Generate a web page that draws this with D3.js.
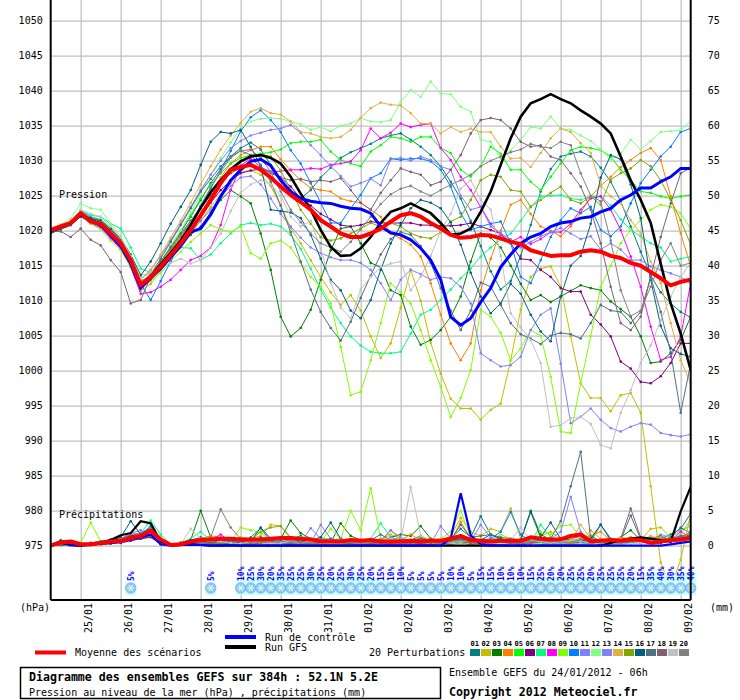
<!DOCTYPE html>
<html><head><meta charset="utf-8">
<script src="https://cdn.jsdelivr.net/npm/d3@7"></script>
<style>
body{margin:0;background:#fff}
svg{display:block}
text{font-family:"DejaVu Sans Mono",monospace}
</style>
</head><body>
<svg id="c" width="740" height="700"></svg>
<script>
// ---------------- DATA ----------------
const dayLabels = ["25/01","26/01","27/01","28/01","29/01","30/01","31/01","01/02","02/02","03/02","04/02","05/02","06/02","07/02","08/02","09/02"];
const dayIndex = [3,7,11,15,19,23,27,31,35,39,43,47,51,55,59,63];
const pressureTicks = [1050,1045,1040,1035,1030,1025,1020,1015,1010,1005,1000,995,990,985,980,975];
const precipTicks = [75,70,65,60,55,50,45,40,35,30,25,20,15,10,5,0];
const memberLabels = ["01","02","03","04","05","06","07","08","09","10","11","12","13","14","15","16","17","18","19","20"];
const memberColors = ["#008080","#c0c000","#008000","#ff8000","#00ff00","#800080","#00ff80","#ff00ff","#80ff00","#0080ff","#8080ff","#80ff80","#8080f8","#e0b040","#80a800","#006080","#507080","#806070","#c0c0c0","#808080"];

// snow probability (%) per 6h step, null = none
const snowPct = [null,null,null,null,null,null,null,null,5,null,null,null,null,null,null,null,5,null,null,
 10,25,30,20,35,25,25,30,25,20,25,30,25,20,15,10,10,5,5,5,5,10,10,5,15,15,10,10,10,15,25,20,20,25,25,20,25,25,25,20,15,35,40,30,35,40];

// sea level pressure (hPa), 65 steps of 6h
const pressControl = [1019.9,1020.5,1021.0,1022.3,1021.4,1020.8,1019.3,1017.8,1015.3,1011.8,
 1013.2,1014.6,1016.2,1017.8,1019.8,1020.3,1022.3,1024.9,1027.2,1028.7,
 1029.9,1030.2,1029.3,1027.2,1025.6,1024.6,1024.2,1024.0,1023.9,1023.5,
 1023.2,1023.1,1022.5,1020.6,1019.7,1019.4,1018.7,1017.5,1015.8,1013.0,
 1007.7,1006.5,1007.5,1009.8,1011.8,1014.8,1016.6,1018.2,1019.1,1019.6,
 1020.6,1021.1,1021.3,1021.8,1022.0,1022.7,1023.2,1024.4,1025.1,1026.1,
 1026.1,1027.0,1027.7,1028.9,1028.9];
const pressGFS = [1020.0,1020.6,1021.0,1022.4,1021.5,1021.0,1019.5,1018.0,1015.5,1012.0,
 1013.5,1015.2,1016.8,1018.6,1020.8,1023.3,1025.5,1027.2,1028.8,1029.9,
 1030.6,1030.8,1030.4,1029.6,1027.7,1025.3,1023.0,1020.1,1017.7,1016.4,
 1016.5,1017.5,1019.1,1021.1,1022.7,1023.2,1023.9,1023.2,1022.5,1021.1,
 1019.4,1019.6,1020.3,1022.7,1025.6,1029.4,1033.2,1036.3,1038.2,1038.8,
 1039.5,1038.8,1038.2,1037.2,1036.3,1035.3,1033.9,1030.6,1027.2,1024.4,
 1021.1,1015.3,1009.6,1005.3,1000.1];
const pressMean = [1020.1,1020.6,1021.1,1022.5,1021.3,1021.0,1019.6,1018.2,1015.8,1012.2,
 1013.4,1014.9,1016.5,1018.2,1020.1,1022.2,1024.4,1026.8,1028.7,1029.1,
 1029.4,1028.7,1027.6,1026.3,1025.1,1024.1,1023.0,1021.5,1020.6,1019.6,
 1019.1,1019.1,1019.6,1020.3,1021.3,1022.2,1022.5,1022.0,1021.1,1020.3,
 1019.4,1019.0,1019.1,1019.4,1019.3,1018.9,1018.4,1018.1,1017.2,1016.8,
 1016.4,1016.5,1016.5,1017.0,1017.2,1017.0,1016.4,1016.1,1015.4,1015.0,
 1014.1,1013.2,1012.2,1012.7,1013.0];
const pressPert = [
[1019.8,1020.5,1021.0,1022.8,1021.8,1021.4,1020.0,1018.4,1015.6,1012.4,1013.8,1015.6,1017.6,1019.8,1022.0,1024.4,1026.8,1028.8,1030.6,1031.8,1032.6,1031.6,1029.4,1027.2,1025.2,1024.6,1025.8,1027.6,1029.0,1030.4,1031.2,1031.8,1032.4,1033.2,1033.6,1033.9,1033.0,1032.0,1030.8,1029.2,1027.0,1024.6,1021.4,1017.8,1014.2,1011.6,1012.8,1016.4,1020.8,1025.6,1028.8,1030.6,1031.0,1031.3,1030.6,1029.0,1027.0,1024.2,1020.6,1017.0,1013.6,1011.2,1009.6,1008.4,1007.6],
[1019.9,1020.6,1021.2,1022.4,1021.4,1020.8,1019.4,1017.6,1014.8,1011.4,1012.4,1014.2,1016.2,1018.0,1019.6,1021.4,1023.4,1025.2,1026.8,1028.4,1028.6,1028.0,1026.4,1023.6,1020.4,1018.2,1015.8,1013.4,1011.2,1009.4,1010.8,1008.6,1004.9,1001.8,1003.9,1009.0,1014.4,1010.0,1004.0,999.6,996.0,994.6,994.6,993.0,994.4,995.3,1001.5,1008.7,1013.4,1014.6,1014.9,1012.0,1004.9,998.2,996.1,996.1,994.2,996.5,996.8,994.0,983.5,972.6,969.0,973.0,979.5],
[1019.6,1020.2,1020.8,1022.0,1021.2,1020.6,1019.2,1017.8,1015.4,1012.6,1013.4,1015.0,1016.6,1018.2,1019.4,1020.6,1022.6,1024.4,1025.8,1024.9,1023.9,1019.6,1014.4,1007.7,1004.9,1006.1,1008.7,1013.0,1017.2,1020.3,1020.6,1018.2,1015.4,1014.8,1011.5,1010.8,1006.3,1003.7,1004.4,1005.8,1007.7,1010.6,1015.6,1019.6,1019.0,1017.6,1015.0,1012.4,1010.1,1010.8,1009.8,1010.6,1011.4,1012.2,1011.8,1011.5,1009.9,1008.8,1007.7,1004.9,1001.1,1001.3,1002.5,1004.4,1007.7],
[1020.0,1020.6,1021.1,1022.7,1021.6,1021.3,1020.0,1018.6,1016.2,1012.8,1013.6,1015.2,1017.2,1019.0,1021.0,1023.4,1025.6,1027.6,1029.6,1030.8,1031.5,1032.0,1032.0,1030.2,1028.6,1027.2,1026.1,1025.8,1025.6,1024.6,1024.2,1024.0,1023.0,1022.0,1019.6,1018.9,1018.0,1016.3,1012.5,1008.0,1003.9,1001.5,1003.9,1011.5,1016.0,1020.0,1023.7,1024.4,1022.4,1020.6,1020.0,1019.2,1020.6,1022.6,1024.9,1026.4,1027.7,1029.1,1030.1,1031.1,1031.8,1030.1,1024.9,1019.6,1014.9],
[1019.9,1020.5,1021.2,1022.9,1022.0,1021.6,1020.4,1018.8,1016.0,1012.6,1013.6,1015.6,1017.8,1020.0,1022.2,1024.6,1026.6,1028.2,1029.6,1030.4,1030.8,1031.0,1031.2,1031.6,1032.5,1032.7,1032.7,1033.0,1031.3,1030.1,1029.6,1029.2,1031.3,1032.2,1033.4,1033.2,1032.7,1033.4,1033.4,1031.8,1031.1,1028.7,1027.7,1029.2,1032.0,1031.0,1028.7,1028.7,1027.0,1025.8,1027.7,1029.6,1031.5,1032.0,1031.8,1031.5,1030.6,1028.7,1027.2,1025.6,1025.4,1024.9,1024.6,1024.9,1025.1],
[1020.1,1020.7,1021.1,1022.3,1021.2,1020.8,1019.4,1017.9,1015.5,1012.2,1013.2,1014.8,1016.4,1018.2,1020.0,1022.0,1024.0,1025.8,1027.2,1028.2,1028.6,1028.8,1028.4,1027.6,1026.3,1024.6,1023.6,1022.4,1021.6,1020.8,1020.6,1020.8,1021.3,1021.1,1021.1,1021.1,1021.1,1020.8,1020.8,1020.7,1020.7,1020.8,1021.1,1020.6,1020.1,1019.6,1018.2,1016.0,1015.8,1014.4,1013.4,1011.8,1011.3,1011.3,1008.0,1006.6,1004.9,1001.3,1000.3,998.4,998.2,999.2,1001.1,1003.9,1003.9],
[1020.1,1020.6,1021.3,1022.9,1022.2,1022.0,1021.0,1020.3,1017.6,1014.6,1014.0,1015.0,1016.8,1017.6,1017.5,1015.8,1016.6,1018.2,1019.6,1020.8,1021.1,1020.8,1021.0,1020.6,1019.4,1017.4,1014.6,1011.6,1009.0,1006.8,1004.9,1003.6,1002.7,1002.5,1002.5,1002.7,1005.3,1008.0,1008.7,1010.1,1011.6,1013.2,1014.6,1016.3,1017.6,1018.7,1019.6,1021.4,1023.4,1024.9,1025.0,1025.1,1024.6,1024.4,1024.9,1024.9,1023.6,1021.6,1020.1,1019.2,1018.2,1017.6,1015.6,1016.0,1016.3],
[1019.8,1020.4,1020.9,1022.2,1021.0,1020.4,1018.9,1017.4,1014.8,1011.0,1011.2,1012.0,1013.0,1014.4,1015.8,1016.4,1017.6,1020.8,1025.8,1029.3,1030.3,1029.1,1028.4,1028.5,1028.7,1028.7,1028.9,1028.8,1029.4,1029.6,1029.9,1031.5,1034.6,1033.2,1034.0,1035.3,1034.8,1035.1,1035.3,1031.8,1030.1,1027.7,1025.8,1023.4,1021.0,1019.4,1018.4,1019.1,1018.1,1018.8,1019.8,1019.8,1021.0,1023.0,1024.6,1024.9,1023.0,1020.1,1016.3,1012.0,1006.3,1001.5,1002.0,1004.9,1012.5],
[1020.0,1020.5,1021.0,1022.2,1021.0,1020.2,1018.6,1017.2,1014.8,1012.0,1012.8,1014.0,1015.6,1017.0,1018.4,1019.6,1020.8,1020.2,1019.8,1020.6,1016.8,1016.0,1018.2,1018.6,1017.6,1015.4,1013.4,1012.0,1009.6,1003.4,996.5,997.0,1001.5,1006.8,1012.5,1011.2,1009.6,1005.8,1001.5,997.7,993.4,996.1,1000.1,1008.7,1007.7,1005.4,1001.5,1003.2,1005.8,1005.0,999.1,991.3,991.1,998.2,1004.9,1012.0,1015.0,1018.2,1020.1,1021.5,1023.0,1023.7,1023.4,1022.5,1020.3],
[1019.9,1020.6,1021.1,1022.6,1021.7,1021.4,1020.2,1018.8,1016.4,1012.4,1010.1,1012.8,1015.6,1018.4,1020.8,1023.4,1026.0,1028.6,1031.4,1034.2,1036.2,1037.2,1035.8,1034.1,1031.5,1029.6,1026.8,1024.0,1021.1,1021.1,1023.2,1025.1,1027.5,1028.2,1030.3,1030.1,1030.3,1030.3,1029.9,1028.7,1026.3,1022.5,1020.1,1020.6,1021.0,1021.3,1018.2,1013.4,1012.5,1015.8,1019.1,1021.5,1023.2,1022.5,1023.4,1020.1,1019.2,1020.6,1023.9,1026.8,1028.7,1030.6,1032.0,1034.1,1034.6],
[1020.0,1020.6,1021.0,1022.4,1021.4,1021.0,1019.6,1018.0,1015.6,1012.0,1013.0,1014.6,1016.4,1018.2,1019.8,1021.4,1023.0,1024.8,1026.4,1027.6,1027.8,1026.6,1024.6,1022.4,1020.6,1019.0,1017.6,1016.8,1016.2,1015.8,1015.8,1015.4,1014.4,1012.5,1010.1,1013.0,1014.4,1013.8,1013.0,1013.4,1013.2,1012.0,1009.6,1002.5,1001.5,1000.6,1000.8,1002.0,1005.8,1008.0,1008.9,1001.0,992.5,993.4,994.6,993.0,991.8,991.3,992.0,992.5,992.3,991.1,990.8,990.6,990.9],
[1020.2,1020.9,1021.7,1023.9,1023.2,1023.0,1021.0,1019.2,1016.6,1013.8,1013.6,1015.4,1017.6,1020.0,1022.6,1025.4,1028.0,1030.4,1032.6,1034.6,1035.6,1036.0,1036.1,1036.0,1035.6,1035.2,1034.4,1034.8,1034.2,1035.0,1035.3,1036.1,1035.6,1035.5,1035.8,1038.4,1040.1,1039.1,1041.3,1039.6,1039.5,1037.7,1037.0,1033.0,1032.7,1030.3,1031.5,1033.0,1034.8,1034.6,1036.3,1034.6,1034.4,1033.6,1032.8,1031.6,1030.2,1031.0,1033.0,1031.6,1032.8,1034.1,1034.2,1034.4,1035.6],
[1020.1,1020.7,1021.3,1022.8,1021.9,1021.5,1020.2,1018.8,1016.4,1013.0,1014.4,1016.4,1018.6,1021.0,1023.4,1025.8,1028.0,1030.0,1031.8,1032.8,1033.6,1034.0,1034.4,1034.6,1035.1,1034.0,1032.2,1030.8,1029.2,1027.8,1026.3,1026.8,1027.4,1026.5,1030.2,1030.4,1030.0,1030.6,1030.1,1029.2,1028.7,1025.0,1023.0,1023.4,1020.6,1019.6,1018.8,1017.6,1018.4,1019.2,1019.8,1020.4,1019.6,1018.8,1019.2,1017.3,1018.2,1017.3,1015.8,1015.8,1014.9,1014.4,1013.9,1013.4,1012.5],
[1020.0,1020.5,1021.0,1022.7,1021.7,1021.3,1020.1,1018.6,1016.0,1013.0,1014.4,1016.6,1019.0,1021.4,1024.0,1026.6,1029.2,1031.6,1033.6,1035.4,1037.0,1037.5,1036.8,1036.6,1035.6,1034.1,1033.9,1033.4,1033.2,1033.4,1034.4,1036.1,1037.5,1038.3,1038.0,1037.9,1036.8,1035.3,1035.3,1033.9,1034.8,1034.1,1034.6,1034.1,1034.1,1032.0,1030.3,1030.4,1029.1,1031.1,1033.2,1034.6,1034.1,1032.5,1031.1,1026.5,1024.9,1023.9,1021.5,1019.6,1015.6,1012.5,1006.8,1001.5,998.2],
[1020.0,1020.6,1021.1,1022.6,1021.5,1021.0,1019.7,1018.2,1015.9,1012.6,1013.6,1015.4,1017.4,1019.4,1021.4,1023.4,1025.4,1027.2,1028.8,1030.0,1030.8,1030.9,1030.6,1028.6,1025.8,1023.0,1021.0,1019.1,1018.6,1018.9,1019.6,1020.3,1021.1,1020.6,1021.1,1020.6,1019.6,1019.1,1018.9,1019.8,1021.3,1022.0,1024.4,1027.2,1028.0,1027.7,1025.8,1025.6,1023.4,1024.4,1025.4,1026.3,1024.4,1023.9,1024.9,1023.7,1027.3,1028.2,1028.9,1030.1,1029.2,1027.2,1024.4,1021.5,1018.0],
[1019.7,1020.3,1020.8,1022.4,1021.8,1021.4,1020.2,1018.8,1016.6,1013.6,1015.6,1018.2,1021.0,1023.4,1025.8,1029.4,1032.7,1034.1,1033.9,1034.4,1032.0,1029.2,1023.0,1022.8,1022.6,1021.8,1019.4,1016.0,1013.0,1011.5,1008.6,1007.5,1010.1,1014.4,1018.2,1020.8,1023.2,1024.4,1024.0,1023.2,1021.2,1018.0,1014.0,1010.6,1008.2,1009.6,1012.4,1011.0,1008.0,1005.6,1004.2,1010.6,1015.0,1016.4,1021.0,1027.6,1030.8,1030.2,1026.6,1021.8,1013.0,1006.4,1003.2,1002.4,1002.0],
[1019.8,1020.4,1020.9,1022.5,1021.6,1021.0,1019.6,1018.0,1015.6,1012.4,1013.8,1016.0,1018.4,1020.8,1023.2,1025.6,1027.4,1029.2,1030.6,1031.4,1030.8,1029.4,1027.0,1023.6,1019.8,1015.6,1011.6,1008.4,1006.1,1004.3,1007.0,1010.4,1013.6,1016.6,1018.8,1019.8,1019.4,1017.8,1015.4,1011.8,1008.6,1005.8,1008.6,1012.6,1012.0,1009.4,1006.8,1005.2,1004.6,1003.8,1005.0,1005.4,1005.2,1004.6,1006.8,1009.4,1008.6,1008.4,1006.8,1008.4,1013.4,1008.4,1002.6,994.0,1001.0],
[1019.9,1019.9,1019.1,1020.3,1018.7,1017.9,1015.8,1014.1,1009.6,1010.1,1013.4,1015.6,1017.6,1019.6,1021.4,1023.2,1025.0,1026.8,1028.2,1029.0,1029.4,1029.0,1028.2,1027.6,1027.2,1027.4,1027.0,1027.2,1027.0,1027.5,1025.8,1024.0,1023.0,1025.4,1027.2,1028.9,1028.4,1028.0,1026.5,1027.0,1028.7,1030.8,1033.9,1035.8,1036.1,1035.8,1034.6,1032.7,1032.0,1032.2,1030.6,1030.1,1028.2,1026.3,1023.0,1018.2,1012.0,1006.8,1005.8,1007.7,1013.4,1019.1,1023.9,1028.2,1029.0],
[1020.0,1020.7,1021.2,1023.0,1022.4,1022.0,1020.6,1019.0,1016.4,1013.2,1014.0,1014.8,1015.4,1016.0,1015.3,1015.8,1017.6,1019.6,1022.8,1025.4,1026.6,1027.2,1026.6,1025.0,1022.0,1020.6,1021.4,1017.4,1012.6,1009.0,1007.5,1011.6,1013.4,1014.8,1015.3,1015.6,1011.5,1013.4,1016.4,1020.0,1022.4,1026.0,1027.2,1024.4,1023.0,1016.4,1008.2,1006.2,1004.4,1001.1,992.0,992.2,993.2,993.4,992.4,989.4,988.9,994.0,997.2,1001.1,1003.6,1007.2,1010.6,1013.4,1015.4],
[1019.8,1020.4,1020.9,1022.6,1021.6,1021.2,1019.8,1018.4,1015.9,1012.8,1013.4,1015.2,1017.2,1019.2,1021.2,1023.6,1026.2,1028.4,1030.4,1031.4,1031.6,1030.4,1028.4,1025.6,1023.0,1021.2,1019.6,1018.2,1017.6,1017.0,1018.4,1020.2,1022.0,1023.8,1025.2,1026.0,1026.4,1025.6,1025.0,1025.8,1026.6,1027.2,1028.0,1029.2,1030.0,1030.6,1031.2,1031.6,1032.4,1032.0,1031.8,1032.7,1032.2,1028.2,1025.0,1024.2,1018.6,1011.5,1007.8,1008.6,1012.0,1015.8,1018.2,1015.0,1015.4]
];

// precipitation (mm per 6h)
const precipControl = [0,0.5,0.1,0,0.1,0.3,0.4,0.6,1.0,1.2,1.6,0.2,0,
 0.1,0.2,0.1,0,0,0.1,0,0,0,0,0,0,0,
 0,0,0,0,0,0,0,0,0,0,0,0,0,
 0,1.0,7.5,1.5,0.2,0,0,0,0,0,0,0,0,
 0,0,0,0,0,0,0,0,0,0,0.2,0.4,0.6];
const precipGFS = [0,0.4,0.1,0,0.2,0.4,0.8,1.5,1.8,3.5,3.2,0.6,0,
 0.1,0.2,0.1,0,0,0,0,0,0,0,0,0,0,
 0,0,0,0,0,0,0,0,0,0,0,0,0,
 0,0,0,0,0,0,0,0,0,0,0,0,0,
 0,0,0,0,0.4,0.8,1.0,1.2,1.0,0.8,0.6,4.9,8.4];
const precipMean = [0,0.5,0.6,0.2,0.2,0.4,0.6,0.7,1.2,1.4,2.2,0.9,0.1,
 0.2,0.6,0.8,0.9,1.0,1.0,0.9,0.9,0.9,1.0,1.1,1.1,1.0,
 0.9,0.6,0.6,0.6,0.8,0.7,0.8,0.6,0.6,0.6,0.7,0.6,0.7,
 0.7,1.0,1.4,0.8,0.7,0.6,0.7,0.7,0.7,1.2,1.0,0.9,0.9,
 1.4,1.6,0.6,0.7,0.8,0.7,0.9,0.8,0.4,0.6,0.8,0.9,1.1];
const precipPert = [
[0,0.8,0.2,0,0.3,0.6,0.9,1.0,1.6,1.8,2.6,0.8,0.1, 0.3,0.8,1.2,0.8,0.6,0.4,0.3,1.2,2.5,0.6,0.4,0.9,1.4, 0.6,0.4,0.8,0.5,0.6,0.3,0.5,1.0,0.6,0.4,0.8,1.4,0.6, 0.4,1.0,2.4,1.2,4.2,1.6,0.8,0.6,0.9,1.2,0.8,0.6,0.4, 0.9,1.6,0.6,3.0,1.0,0.8,1.2,0.8,0.6,1.0,1.6,2.4,4.6],
[0,0.2,0,0,0.1,0.3,0.4,0.6,1.0,1.2,1.6,0.3,0, 0.2,0.4,0.2,0.6,0.8,0.6,1.2,1.0,1.4,3.0,2.8,1.0,0.8, 0.6,1.2,0.8,0.6,0.4,0.6,0.3,0.8,1.6,1.0,0.6,1.2,1.0, 0.8,1.4,4.0,2.0,1.4,2.4,2.0,5.3,1.0,0.6,1.4,2.0,1.0, 0.6,0.4,2.2,1.0,0.6,0.8,1.2,0.8,2.4,2.6,1.2,0.8,1.6],
[0,0.1,0,0,0.2,0.2,0.3,0.5,0.8,1.0,1.4,0.2,0, 0.4,0.8,5.0,1.2,0.6,0.3,0.2,0.4,0.6,0.8,1.0,3.6,1.8, 1.0,0.6,0.4,3.2,1.4,0.8,0.6,0.4,1.2,1.6,1.4,2.8,1.0, 0.6,0.4,0.8,0.6,0.4,0.8,1.0,0.6,0.8,5.0,1.6,0.8,1.0, 0.6,0.8,1.4,0.6,0.4,1.2,2.2,0.8,0.6,0.4,0.8,1.0,2.0],
[0,0.3,0.1,0,0.2,0.3,0.5,0.6,0.9,1.2,1.8,0.4,0, 0.2,0.6,1.0,1.4,1.2,0.8,0.4,0.6,0.4,0.8,1.0,0.6,0.4, 0.6,0.8,0.4,0.6,0.8,0.6,0.4,0.5,2.2,0.8,1.6,0.8,0.6, 0.4,0.6,3.4,1.0,0.8,0.6,0.4,0.6,0.8,0.6,0.4,0.8,0.6, 1.0,0.8,1.4,2.0,0.8,0.6,0.4,0.8,1.0,0.6,0.8,1.2,1.6],
[0,0.2,0,0,0.1,0.3,0.5,0.7,1.0,1.4,2.0,0.4,0, 0.2,0.6,0.4,0.2,0.2,0.3,0.4,0.2,0.6,0.4,0.2,0.3,0.2, 0.2,0.1,0.3,0.2,0.1,0.2,0.1,0.3,0.4,0.2,0.4,0.6,0.3, 0.2,0.4,1.2,0.6,0.4,0.3,0.5,0.4,0.3,0.4,0.2,0.4,0.3, 0.4,0.6,0.4,0.3,0.2,0.4,0.6,0.4,0.8,1.0,0.6,1.4,1.0],
[0,0.1,0,0,0.1,0.2,0.3,0.4,0.7,1.0,1.2,0.2,0, 0.1,0.2,0.3,0.2,0.1,0.2,0.3,0.2,0.3,0.2,0.1,0.2,0.3, 0.2,0.1,0.2,0.3,0.2,0.1,0.2,0.1,0.2,0.3,0.2,0.1,0.2, 0.3,0.2,0.4,0.2,0.3,0.2,0.1,0.3,0.2,0.4,0.3,0.2,0.3, 0.2,0.3,0.4,0.2,0.3,0.2,0.4,0.6,0.8,1.2,0.6,0.8,1.0],
[0,0.4,0.1,0,0.2,0.4,0.8,1.0,1.4,1.8,3.6,1.6,0.2, 0.4,1.0,2.0,0.8,0.6,0.3,0.2,0.4,0.3,0.2,0.1,0.4,0.2, 0.3,0.2,0.4,0.6,0.2,0.4,1.0,3.2,1.2,0.6,0.4,0.3,0.6, 0.8,0.6,0.4,0.6,0.4,0.8,0.6,0.4,0.6,0.4,3.0,1.2,0.6, 0.8,0.6,0.4,0.6,1.0,0.8,0.6,0.4,0.8,1.6,1.2,2.2,2.8],
[0,0.2,0,0,0.1,0.4,0.6,0.8,1.2,1.4,1.6,0.3,0, 0.2,0.4,1.0,0.8,1.6,0.6,0.4,0.2,0.3,0.4,0.2,0.3,0.4, 0.2,0.3,0.2,0.4,0.3,0.2,0.3,0.4,0.3,0.2,0.4,0.3,0.2, 0.3,0.4,0.6,0.4,0.3,0.2,0.4,0.3,0.2,0.3,0.4,0.6,0.4, 0.3,0.4,0.6,0.4,0.3,0.4,0.6,0.8,1.0,1.4,0.8,2.0,1.2],
[0,0.3,0.1,0.4,3.3,0.6,0.5,0.8,1.4,1.6,2.4,0.6,0.2, 0.4,0.6,0.8,0.6,0.4,0.6,2.6,2.2,1.8,0.8,0.6,0.4,1.2, 0.8,0.6,2.4,1.0,5.0,2.2,8.2,1.0,0.8,1.2,0.6,1.0,0.8, 1.0,2.0,5.0,1.2,0.8,0.6,1.6,1.0,0.8,0.6,2.0,1.6,2.8, 3.0,1.2,0.8,0.6,0.4,0.8,1.0,0.6,0.8,1.2,0.6,1.0,1.4],
[0,0.5,0.1,0,0.2,0.4,0.6,0.9,1.2,1.6,2.8,0.6,0, 0.2,0.4,0.3,0.2,0.3,0.4,0.2,0.3,0.4,0.2,0.3,0.4,0.2, 0.3,0.2,0.3,0.4,0.3,0.2,0.3,0.2,0.4,0.3,0.2,0.3,0.4, 0.3,0.4,0.6,0.4,0.8,1.0,2.0,4.8,1.6,0.6,0.4,0.3,0.4, 0.6,0.4,0.3,0.4,0.6,0.4,0.6,0.8,0.6,0.8,1.0,1.2,1.4],
[0,0.3,0.1,0,0.2,0.4,0.6,0.8,1.6,1.8,2.0,0.5,0, 0.2,0.4,0.6,0.4,0.3,0.4,0.6,0.8,1.0,0.8,0.6,0.5,0.4, 2.5,1.0,0.8,0.6,0.4,0.6,0.8,0.6,1.2,0.8,0.6,0.4,0.3, 2.8,1.0,0.8,0.6,3.0,1.2,0.6,0.8,0.6,0.4,0.8,1.0,2.0, 7.0,2.0,0.6,0.4,0.6,0.4,0.3,0.4,0.6,0.8,0.6,0.4,0.6],
[0,0.2,0,0,0.2,0.3,0.5,0.7,1.0,1.4,1.8,0.3,0, 0.2,0.4,0.3,0.2,0.4,0.2,0.3,0.2,0.4,0.3,0.2,0.4,0.3, 0.2,0.3,0.2,0.3,0.2,0.4,0.3,0.2,0.3,0.2,0.3,0.4,0.3, 0.2,0.3,0.4,0.3,0.2,0.4,0.3,0.2,0.3,0.4,0.3,0.2,0.3, 0.2,0.3,0.2,0.4,0.3,0.2,0.3,0.4,0.6,0.8,1.0,0.8,1.2],
[0,0.4,0.1,0,0.3,0.5,0.7,1.0,1.8,2.2,1.4,0.4,0, 0.2,0.3,0.4,0.3,0.4,0.6,0.8,0.6,0.4,0.3,0.6,0.8,0.6, 0.4,3.0,1.0,0.6,0.4,0.3,0.6,0.8,2.2,1.2,0.6,0.8,0.6, 0.4,0.6,0.8,0.6,0.4,0.6,0.8,0.6,0.4,0.6,0.8,0.6,0.4, 0.6,0.8,0.6,0.4,0.6,0.8,0.6,0.4,0.6,1.0,0.8,1.0,1.2],
[0,0.3,0,0,0.2,0.3,0.5,0.6,1.0,1.2,1.6,0.3,0, 0.2,0.3,0.4,0.6,0.8,0.6,0.4,0.3,0.2,0.4,0.6,0.4,0.3, 0.2,0.3,0.4,0.3,0.2,0.4,0.3,0.2,0.4,0.3,0.2,0.3,0.4, 0.3,0.4,0.6,0.4,0.3,0.6,0.8,1.0,0.6,0.4,0.6,1.0,0.8, 0.6,3.0,1.0,0.6,0.8,1.2,1.0,0.8,1.4,1.0,0.8,1.6,3.8],
[0,0.2,0,0,0.1,0.3,0.4,0.6,1.0,1.2,1.4,0.3,0, 0.2,0.4,0.6,0.4,0.3,0.4,0.6,0.8,2.0,2.6,2.8,1.2,0.6, 0.4,0.6,0.8,0.6,0.4,0.6,0.4,0.6,0.4,0.6,0.8,0.6,0.4, 0.6,0.8,0.6,0.4,0.6,0.8,0.6,0.4,0.6,0.8,0.6,0.4,0.6, 0.4,0.6,0.8,0.6,0.4,0.6,0.8,0.6,0.8,1.0,0.8,0.6,1.0],
[0,0.4,0.1,0,0.4,0.6,0.8,1.2,3.5,1.6,2.0,0.6,0, 0.4,0.8,0.6,0.4,0.8,0.6,0.4,0.6,2.6,1.0,0.8,1.0,0.6, 0.8,1.2,3.3,1.0,0.6,0.8,0.6,0.4,0.6,0.8,0.6,1.0,0.8, 0.6,0.8,1.0,0.6,0.8,1.6,1.0,0.6,0.8,4.8,1.2,3.3,1.0, 0.8,0.6,1.0,3.0,0.8,0.6,0.8,1.0,0.6,0.4,0.6,1.0,1.4],
[0,0.3,0.1,0,0.2,0.4,0.6,0.8,1.2,1.4,1.8,0.4,0, 0.2,0.4,0.6,0.4,0.6,0.8,0.6,0.4,1.2,0.8,0.6,0.4,0.6, 0.4,0.8,1.0,0.6,0.4,0.6,0.8,1.6,0.8,0.6,0.4,1.0,0.8, 0.6,0.8,3.0,1.2,1.4,1.6,1.2,1.0,0.8,0.6,0.8,1.0,3.5, 8.5,13.4,1.0,0.8,0.6,0.8,4.3,1.0,0.6,0.8,1.2,2.6,1.8],
[0,0.2,0.1,0,0.2,0.3,0.5,0.7,1.0,1.2,1.4,0.2,0, 0.1,0.3,0.4,0.3,0.2,0.4,0.3,0.2,0.4,0.6,0.4,0.3,0.2, 0.4,0.3,0.2,0.4,0.3,0.2,0.3,0.4,0.3,0.2,0.4,0.3,0.2, 0.3,0.4,0.6,0.4,0.3,0.4,0.6,0.4,0.3,0.4,0.6,0.4,0.6, 0.8,0.6,0.4,0.6,0.8,1.0,5.3,1.2,0.8,0.6,1.0,1.4,1.6],
[0,0.3,0.1,0,0.2,0.4,0.6,0.9,1.2,1.5,1.8,0.4,0, 0.2,2.4,1.0,0.8,0.6,0.4,0.3,0.6,0.4,0.3,0.4,0.6,0.4, 0.6,0.4,0.3,0.4,0.6,0.4,0.6,0.8,1.0,0.6,8.4,1.4,0.8, 0.6,0.4,0.6,0.8,0.6,0.4,0.6,0.8,2.6,0.8,0.6,0.4,0.6, 0.8,0.6,0.4,0.6,0.8,1.0,0.6,0.4,0.6,0.8,1.0,0.8,0.6],
[0,0.3,0.1,0,0.2,0.4,0.6,0.8,1.4,1.6,2.2,0.4,0, 0.2,0.4,0.6,1.2,5.2,2.6,1.0,0.6,0.4,0.8,1.2,0.6,0.4, 0.4,0.6,0.8,1.0,0.6,0.4,0.6,0.8,0.6,0.4,0.6,0.8,0.6, 0.4,0.6,0.8,0.6,0.4,0.6,0.8,0.6,0.4,0.6,0.8,0.6,1.0, 1.4,1.0,0.6,0.8,0.6,0.4,0.6,0.8,1.0,0.6,0.8,1.0,1.2]
];

// ---------------- DRAW ----------------
const svg = d3.select("#c");
const L = 50.7, R = 690.7, B = 600;
const x = d3.scaleLinear().domain([0, 64]).range([L, R]);
const y = d3.scaleLinear().domain([975, 1050]).range([545.7, 20.7]);
const yR = d3.scaleLinear().domain([0, 75]).range([545.7, 20.7]);

svg.append("rect").attr("width", 740).attr("height", 700).attr("fill", "#fff");

// grid
const gy = svg.append("g").attr("transform", `translate(${L},0)`)
  .call(d3.axisLeft(y).tickValues(pressureTicks).tickSize(-(R - L)).tickFormat(""));
gy.select(".domain").remove();
gy.selectAll("line").attr("stroke", "#c0c0c0").attr("stroke-width", 1.3);

const gx = svg.append("g").attr("transform", `translate(0,${B})`)
  .call(d3.axisBottom(x).tickValues(dayIndex).tickSize(-B).tickFormat(""));
gx.select(".domain").remove();
gx.selectAll("line").attr("stroke", "#c0c0c0").attr("stroke-width", 1.3);

svg.append("defs").append("clipPath").attr("id", "clip")
  .append("rect").attr("x", L).attr("y", 0).attr("width", R - L).attr("height", B);
const plot = svg.append("g").attr("clip-path", "url(#clip)");

const lineP = d3.line().x((d, i) => x(i)).y(d => y(d));
const lineR = d3.line().x((d, i) => x(i)).y(d => yR(d));

// perturbations: precipitation then pressure
function drawMember(data, gen, scale, color) {
  plot.append("path").datum(data).attr("d", gen)
    .attr("fill", "none").attr("stroke", color).attr("stroke-width", 1);
  plot.append("g").selectAll("circle").data(data).join("circle")
    .attr("cx", (d, i) => x(i)).attr("cy", d => scale(d)).attr("r", 1.3).attr("fill", color);
}
precipPert.forEach((s, k) => drawMember(s, lineR, yR, memberColors[k]));
pressPert.forEach((s, k) => drawMember(s, lineP, y, memberColors[k]));

// GFS
plot.append("path").datum(precipGFS).attr("d", lineR).attr("fill", "none").attr("stroke", "#000").attr("stroke-width", 2.2);
plot.append("path").datum(pressGFS).attr("d", lineP).attr("fill", "none").attr("stroke", "#000").attr("stroke-width", 2.6);
// control
plot.append("path").datum(precipControl).attr("d", lineR).attr("fill", "none").attr("stroke", "#0000ff").attr("stroke-width", 2.2);
plot.append("path").datum(pressControl).attr("d", lineP).attr("fill", "none").attr("stroke", "#0000ff").attr("stroke-width", 3);
// mean
plot.append("path").datum(precipMean).attr("d", lineR).attr("fill", "none").attr("stroke", "#ff0000").attr("stroke-width", 4).attr("stroke-linejoin", "round");
plot.append("path").datum(pressMean).attr("d", lineP).attr("fill", "none").attr("stroke", "#ff0000").attr("stroke-width", 4).attr("stroke-linejoin", "round");

// snow row
const snowPts = snowPct.map((p, i) => ({ p, i })).filter(d => d.p !== null);
svg.append("g").selectAll("rect").data(snowPts).join("rect")
  .attr("x", d => x(d.i) - 5).attr("width", 10.5)
  .attr("y", d => 590 - (6 + d.p * 0.3)).attr("height", d => 5 + 6 + d.p * 0.3)
  .attr("fill", "#ccffff");
const flakes = svg.append("g").selectAll("g").data(snowPts).join("g")
  .attr("transform", d => `translate(${x(d.i)},588)`);
flakes.append("circle").attr("r", 5.2).attr("fill", "#8ccaf0").attr("stroke", "#6fb4e4").attr("stroke-width", 0.8);
[0, 60, 120].forEach(a => {
  flakes.append("line").attr("x1", -3.6).attr("x2", 3.6).attr("y1", 0).attr("y2", 0)
    .attr("transform", `rotate(${a})`).attr("stroke", "#e8f8ff").attr("stroke-width", 1);
});
svg.append("g").selectAll("text").data(snowPts).join("text")
  .attr("transform", d => `translate(${x(d.i) + 3},581) rotate(-90)`)
  .attr("font-size", 8).attr("font-weight", "bold").attr("fill", "#0000ff")
  .text(d => d.p + "%");

// axes lines
svg.append("line").attr("x1", L).attr("x2", L).attr("y1", 0).attr("y2", B).attr("stroke", "#000").attr("stroke-width", 2);
svg.append("line").attr("x1", R).attr("x2", R).attr("y1", 0).attr("y2", B).attr("stroke", "#000").attr("stroke-width", 2);
svg.append("line").attr("x1", L).attr("x2", R).attr("y1", B).attr("y2", B).attr("stroke", "#000").attr("stroke-width", 2);

// tick labels
const ax1 = svg.append("g").attr("transform", `translate(${L},0)`)
  .call(d3.axisLeft(y).tickValues(pressureTicks).tickSize(0).tickPadding(8).tickFormat(d3.format("d")));
ax1.select(".domain").remove();
ax1.selectAll("text").attr("font-family", "DejaVu Sans Mono").attr("font-size", 10).attr("fill", "#000");

const ax2 = svg.append("g").attr("transform", `translate(${R},0)`)
  .call(d3.axisRight(yR).tickValues(precipTicks).tickSize(0).tickPadding(17).tickFormat(d3.format("d")));
ax2.select(".domain").remove();
ax2.selectAll("text").attr("font-family", "DejaVu Sans Mono").attr("font-size", 10).attr("fill", "#000");

const ax3 = svg.append("g").attr("transform", `translate(0,${B})`)
  .call(d3.axisBottom(x).tickValues(dayIndex).tickSize(0).tickFormat((d, i) => dayLabels[i]));
ax3.select(".domain").remove();
ax3.selectAll("text").attr("font-family", "DejaVu Sans Mono").attr("font-size", 10).attr("fill", "#000")
  .attr("transform", "rotate(-90)").attr("x", -3).attr("y", 11).attr("dy", 0).attr("text-anchor", "end");

// labels
function txt(s, tx, ty, opts = {}) {
  const t = svg.append("text").attr("x", tx).attr("y", ty).attr("font-size", opts.size || 10)
    .attr("fill", opts.fill || "#000").text(s);
  if (opts.bold) t.attr("font-weight", "bold");
  if (opts.anchor) t.attr("text-anchor", opts.anchor);
  return t;
}
txt("Pression", 59, 198);
txt("Précipitations", 59, 518);
txt("(hPa)", 20, 611);
txt("(mm)", 710, 611);

// legend
svg.append("line").attr("x1", 225).attr("x2", 256).attr("y1", 637).attr("y2", 637).attr("stroke", "#0000ff").attr("stroke-width", 4);
txt("Run de contrôle", 265, 641);
svg.append("line").attr("x1", 225).attr("x2", 256).attr("y1", 647).attr("y2", 647).attr("stroke", "#000").attr("stroke-width", 4);
txt("Run GFS", 265, 651);
svg.append("line").attr("x1", 35).attr("x2", 66).attr("y1", 652.5).attr("y2", 652.5).attr("stroke", "#ff0000").attr("stroke-width", 4);
txt("Moyenne des scénarios", 75, 656);
txt("20 Perturbations", 369, 656);

const lg = svg.append("g").selectAll("g").data(memberLabels).join("g")
  .attr("transform", (d, i) => `translate(${470 + i * 11},0)`);
lg.append("rect").attr("x", 0).attr("y", 649).attr("width", 10).attr("height", 7)
  .attr("fill", (d, i) => memberColors[i]);
lg.append("text").attr("x", 0.5).attr("y", 646).attr("font-size", 7).attr("font-weight", "bold").text(d => d);

// info box
svg.append("rect").attr("x", 20.5).attr("y", 667.5).attr("width", 420).attr("height", 31)
  .attr("fill", "none").attr("stroke", "#000").attr("stroke-width", 1.5);
txt("Diagramme des ensembles GEFS sur 384h : 52.1N 5.2E", 29, 681, { bold: true, size: 11.6 });
txt("Pression au niveau de la mer (hPa) , précipitations (mm)", 29, 696);
txt("Ensemble GEFS du 24/01/2012 - 06h", 449, 676);
txt("Copyright 2012 Meteociel.fr", 449, 696, { bold: true, size: 11.6 });
</script>
</body></html>
